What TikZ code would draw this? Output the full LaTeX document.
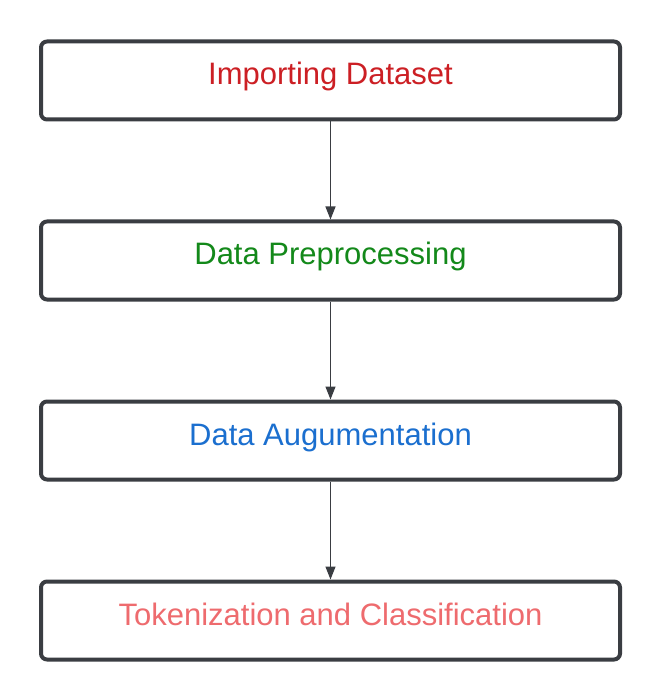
\documentclass[tikz,border=0pt]{standalone}
\usepackage{fontspec}
\setmainfont{Liberation Sans}
\usetikzlibrary{arrows.meta}
\definecolor{edge}{HTML}{3A3D42}
\definecolor{tred}{HTML}{CC1F24}
\definecolor{tgreen}{HTML}{13891A}
\definecolor{tblue}{HTML}{1B6FCF}
\definecolor{tsalmon}{HTML}{EE6B6E}
\begin{document}
\begin{tikzpicture}[x=1pt,y=-1pt,
  stepbox/.style={draw=edge,line width=4pt,rounded corners=6pt,minimum width=579pt,minimum height=78pt,inner sep=0pt,text height=22pt,text depth=13pt,font=\fontsize{31}{36}\selectfont},
  conn/.style={draw=edge,line width=1.3pt,-{Triangle[length=13pt,width=10pt]}}]
\useasboundingbox (0,0) rectangle (660,700);
\fill[white] (0,0) rectangle (660,700);
\node[stepbox,text=tred] (a) at (330.5,80.5) {Importing Dataset};
\node[stepbox,text=tgreen] (b) at (330.5,260.5) {Data Preprocessing};
\node[stepbox,text=tblue] (c) at (330.5,440.5) {Data Augumentation};
\node[stepbox,text=tsalmon] (d) at (330.5,620.5) {Tokenization and Classification};
\draw[conn] (a) -- (b);
\draw[conn] (b) -- (c);
\draw[conn] (c) -- (d);
\end{tikzpicture}
\end{document}
